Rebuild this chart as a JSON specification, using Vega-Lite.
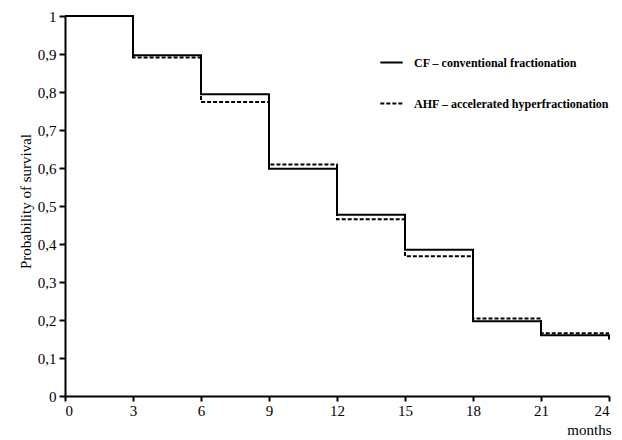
{
  "$schema": "https://vega.github.io/schema/vega-lite/v6.json",
  "width": 544,
  "height": 380,
  "autosize": "none",
  "padding": {"left": 65, "top": 16, "right": 13, "bottom": 44},
  "background": "white",
  "config": {
    "view": {"stroke": null},
    "font": "Liberation Serif"
  },
  "data": {
    "values": [
      {"month": 0, "p": 1.0, "group": "CF – conventional fractionation"},
      {"month": 3, "p": 0.897, "group": "CF – conventional fractionation"},
      {"month": 6, "p": 0.794, "group": "CF – conventional fractionation"},
      {"month": 9, "p": 0.598, "group": "CF – conventional fractionation"},
      {"month": 12, "p": 0.477, "group": "CF – conventional fractionation"},
      {"month": 15, "p": 0.385, "group": "CF – conventional fractionation"},
      {"month": 18, "p": 0.197, "group": "CF – conventional fractionation"},
      {"month": 21, "p": 0.16, "group": "CF – conventional fractionation"},
      {"month": 24, "p": 0.149, "group": "CF – conventional fractionation"},
      {"month": 0, "p": 1.0, "group": "AHF – accelerated hyperfractionation"},
      {"month": 3, "p": 0.891, "group": "AHF – accelerated hyperfractionation"},
      {"month": 6, "p": 0.774, "group": "AHF – accelerated hyperfractionation"},
      {"month": 9, "p": 0.609, "group": "AHF – accelerated hyperfractionation"},
      {"month": 12, "p": 0.465, "group": "AHF – accelerated hyperfractionation"},
      {"month": 15, "p": 0.368, "group": "AHF – accelerated hyperfractionation"},
      {"month": 18, "p": 0.204, "group": "AHF – accelerated hyperfractionation"},
      {"month": 21, "p": 0.165, "group": "AHF – accelerated hyperfractionation"},
      {"month": 24, "p": 0.165, "group": "AHF – accelerated hyperfractionation"}
    ]
  },
  "mark": {"type": "line", "interpolate": "step-after", "color": "black", "strokeWidth": 2},
  "encoding": {
    "x": {
      "field": "month", "type": "quantitative",
      "scale": {"domain": [0, 24], "nice": false, "zero": false},
      "axis": {
        "title": "months", "values": [0, 3, 6, 9, 12, 15, 18, 21, 24],
        "grid": false, "domainColor": "black", "domainWidth": 2,
        "tickColor": "black", "tickWidth": 2, "tickSize": 5,
        "labelFont": "Liberation Serif", "labelFontSize": 15, "labelColor": "black", "labelPadding": 2,
        "titleFont": "Liberation Serif", "titleFontSize": 15, "titleFontWeight": "normal", "titleColor": "black",
        "titleAnchor": "end", "titleAlign": "right", "titleBaseline": "alphabetic", "titleX": 546, "titleY": 38
      }
    },
    "y": {
      "field": "p", "type": "quantitative",
      "scale": {"domain": [0, 1], "nice": false},
      "axis": {
        "title": "Probability of survival",
        "values": [0, 0.1, 0.2, 0.3, 0.4, 0.5, 0.6, 0.7, 0.8, 0.9, 1],
        "labelExpr": "replace(format(datum.value, '.1~f'), '.', ',')",
        "grid": false, "domainColor": "black", "domainWidth": 2,
        "tickColor": "black", "tickWidth": 2, "tickSize": 6,
        "labelFont": "Liberation Serif", "labelFontSize": 15, "labelColor": "black", "labelPadding": 3,
        "titleFont": "Liberation Serif", "titleFontSize": 15, "titleFontWeight": "normal", "titleColor": "black",
        "titleX": -40, "titleY": 185, "titleAngle": -90, "titleAlign": "center", "titleBaseline": "middle"
      }
    },
    "strokeDash": {
      "field": "group", "type": "nominal",
      "scale": {
        "domain": ["CF – conventional fractionation", "AHF – accelerated hyperfractionation"],
        "range": [[1, 0], [4, 2]]
      },
      "legend": {
        "title": null, "orient": "none", "legendX": 314, "legendY": 34,
        "symbolType": "stroke", "symbolSize": 500, "symbolStrokeWidth": 2, "symbolStrokeColor": "black",
        "rowPadding": 22, "labelFont": "Liberation Serif", "labelFontSize": 12, "labelFontWeight": "bold",
        "labelColor": "black", "labelOffset": 10, "labelLimit": 0
      }
    }
  }
}
